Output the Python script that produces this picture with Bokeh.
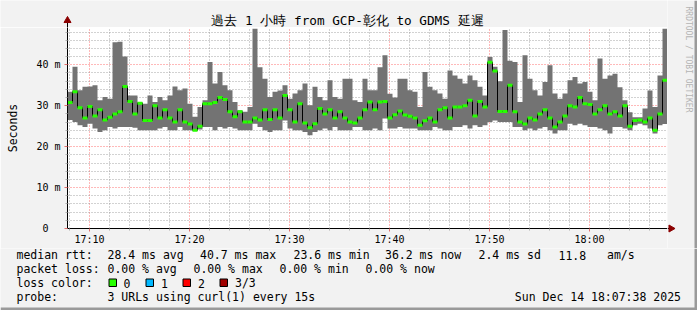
import math
from bokeh.plotting import figure
from bokeh.layouts import column, row
from bokeh.models import Range1d, FixedTicker
from bokeh.core.properties import value
from bokeh.embed import file_html
from bokeh.resources import INLINE

# ---- data (ms), one value per 30 s step ----
rtt_max = [33.4, 39.5, 33.8, 34.6, 34.7, 35.0, 31.3, 32.1, 31.7, 45.5,
           45.6, 42.0, 32.5, 32.5, 30.9, 30.5, 32.5, 30.9, 32.1, 31.3,
           32.5, 34.7, 33.8, 34.2, 30.5, 27.3, 29.7, 31.3, 40.7, 35.4,
           38.2, 35.0, 33.8, 30.9, 28.9, 28.5, 29.7, 48.8, 39.4, 36.6,
           32.1, 33.4, 33.7, 35.0, 31.7, 33.0, 33.8, 35.4, 30.1, 34.6,
           32.1, 31.3, 36.2, 32.1, 31.7, 36.6, 36.6, 31.3, 30.9, 36.6,
           33.8, 33.8, 39.4, 42.3, 32.9, 32.0, 36.6, 36.6, 33.8, 33.4,
           29.7, 38.2, 34.6, 33.8, 33.0, 31.7, 38.6, 37.4, 36.6, 35.4,
           37.4, 36.2, 34.6, 32.5, 41.9, 39.5, 36.0, 48.5, 41.0, 40.7,
           30.9, 42.3, 36.6, 33.8, 32.5, 35.8, 39.9, 33.0, 31.7, 33.0,
           36.2, 37.0, 35.4, 35.8, 33.4, 31.3, 41.5, 36.6, 37.4, 37.8,
           34.5, 31.3, 28.4, 27.2, 27.2, 29.3, 33.7, 29.7, 37.4, 48.8]
rtt_min = [26.5, 26.0, 25.2, 24.8, 25.6, 24.4, 23.6, 24.0, 24.8, 24.4,
           24.8, 24.8, 24.8, 24.6, 24.0, 24.0, 24.0, 24.0, 24.4, 24.8,
           24.0, 24.0, 24.8, 24.0, 24.0, 24.0, 24.2, 24.8, 24.8, 24.0,
           24.8, 24.4, 24.8, 24.4, 24.0, 24.0, 24.0, 25.6, 24.8, 24.0,
           23.6, 24.0, 24.0, 26.4, 24.4, 24.0, 24.0, 23.6, 22.8, 23.6,
           24.0, 24.4, 24.0, 24.8, 24.0, 24.0, 24.0, 24.8, 24.8, 24.0,
           24.0, 24.4, 24.0, 26.9, 24.4, 24.4, 24.8, 24.4, 24.4, 24.4,
           24.0, 24.0, 24.0, 24.8, 24.4, 24.0, 24.0, 24.8, 24.8, 25.2,
           24.4, 25.2, 24.8, 25.2, 26.0, 26.4, 26.0, 26.0, 26.0, 24.8,
           24.8, 24.0, 24.4, 24.0, 24.4, 24.8, 24.0, 23.2, 24.0, 24.0,
           25.6, 25.2, 25.6, 25.2, 24.8, 24.8, 24.4, 24.0, 23.2, 24.8,
           24.8, 24.4, 24.0, 25.2, 25.6, 25.2, 24.4, 23.2, 25.2, 25.5]
rtt_median = [30.8, 33.4, 29.5, 27.0, 29.8, 27.5, 29.0, 26.5, 27.2, 28.0,
              28.5, 34.7, 31.0, 28.0, 30.6, 26.4, 26.4, 30.0, 27.0, 29.0,
              27.0, 26.0, 29.0, 26.0, 25.5, 24.0, 25.0, 30.5, 30.5, 30.8,
              32.0, 31.5, 28.5, 27.3, 28.5, 26.0, 26.0, 27.0, 26.5, 29.0,
              26.6, 29.0, 27.0, 32.5, 29.0, 26.0, 30.5, 25.8, 24.6, 25.6,
              29.3, 28.0, 29.0, 27.0, 28.5, 27.0, 26.0, 25.8, 27.0, 29.0,
              30.9, 29.0, 30.9, 31.0, 27.0, 27.8, 28.7, 27.7, 27.4, 27.0,
              25.2, 26.3, 27.0, 26.0, 29.0, 29.5, 27.0, 29.7, 29.7, 30.0,
              31.3, 27.5, 31.0, 29.7, 40.6, 38.5, 28.6, 28.6, 35.0, 28.5,
              26.0, 25.5, 27.0, 26.5, 28.0, 29.0, 27.0, 24.8, 26.0, 27.5,
              30.0, 29.7, 32.0, 30.5, 30.3, 28.0, 29.0, 30.0, 28.0, 28.5,
              27.5, 30.0, 25.0, 26.4, 26.5, 26.0, 27.0, 24.0, 28.0, 36.2]

start_minute = 7.8      # 17:07:48, minutes after 17:00
step_minutes = 0.5
end_minute = 67.8

x_tick_minutes = [10, 20, 30, 40, 50, 60]
x_tick_labels = ["17:10", "17:20", "17:30", "17:40", "17:50", "18:00"]
y_tick_values = [0, 10, 20, 30, 40]
y_tick_labels = ["0\u00a0\u00a0", "10 m", "20 m", "30 m", "40 m"]

title_text = "過去 1 小時 from GCP-彰化 to GDMS 延遲"
credit_text = "RRDTOOL / TOBI OETIKER"
rtt_row = ["median rtt:", "28.4 ms avg", "40.7 ms max", "23.6 ms min",
           "36.2 ms now", "2.4 ms sd", "11.8", "am/s"]
loss_row = ["packet loss:", "0.00 % avg", "0.00 % max", "0.00 % min", "0.00 % now"]
loss_labels = ["0", "1", "2", "3/3"]
loss_colors = ["#26ff00", "#00b8ff", "#ff0000", "#a00000"]
probe_row = ["probe:", "3 URLs using curl(1) every 15s"]
date_text = "Sun Dec 14 18:07:38 2025"

MONO = "DejaVu Sans Mono"
BG = "#f2f2f2"
EDGE = "#9a9a9a"
ARROW = "#8b0000"

n = len(rtt_median)
left = [start_minute + i * step_minutes for i in range(n)]
right = [v + step_minutes for v in left]


def no_align(f):
    try:
        f.frame_align = False
    except Exception:
        pass


# ------------------------------------------------------------ main chart
p = figure(width=667, height=221, output_backend="svg", toolbar_location=None,
           x_range=Range1d(start_minute, end_minute), y_range=Range1d(0, 49.1),
           min_border_left=67, min_border_right=0, min_border_top=0,
           min_border_bottom=20)
p.background_fill_color = "white"
p.border_fill_color = BG
p.outline_line_color = None
no_align(p)

p.xaxis.ticker = FixedTicker(ticks=x_tick_minutes,
                             minor_ticks=[m for m in range(8, 68, 2) if m % 10])
p.xaxis.major_label_overrides = dict(zip(x_tick_minutes, x_tick_labels))
p.yaxis.ticker = FixedTicker(ticks=y_tick_values,
                             minor_ticks=[v for v in range(2, 49, 2) if v % 10])
p.yaxis.major_label_overrides = dict(zip(y_tick_values, y_tick_labels))
for ax in (p.xaxis[0], p.yaxis[0]):
    ax.axis_line_color = "black"
    ax.major_tick_line_color = "#e07070"
    ax.major_tick_out = 3
    ax.major_tick_in = 0
    ax.minor_tick_line_color = "#b0b0b0"
    ax.minor_tick_out = 2
    ax.minor_tick_in = 0
    ax.major_label_text_font = MONO
    ax.major_label_text_font_size = "10px"
    ax.major_label_text_color = "black"
p.xaxis.major_label_standoff = 2
p.yaxis.major_label_standoff = 4
p.yaxis.axis_label = "Seconds"
p.yaxis.axis_label_text_font = MONO
p.yaxis.axis_label_text_font_size = "11.5px"
p.yaxis.axis_label_text_font_style = "normal"
p.yaxis.axis_label_text_color = "black"
p.yaxis.axis_label_standoff = 13

for g in (p.xgrid[0], p.ygrid[0]):
    g.grid_line_color = "#ff0000"
    g.grid_line_alpha = 0.55
    g.grid_line_dash = "1 2"
    g.minor_grid_line_color = "#909090"
    g.minor_grid_line_alpha = 0.8
    g.minor_grid_line_dash = "1 2"

p.varea_step(x=left + [right[-1]], y1=rtt_min + [rtt_min[-1]],
             y2=rtt_max + [rtt_max[-1]], step_mode="after",
             fill_color="#737373")
p.step(x=left + [right[-1]], y=rtt_median + [rtt_median[-1]], mode="after",
       line_color="black", line_width=1)
p.segment(x0=left, y0=rtt_median, x1=right, y1=rtt_median,
          line_color=loss_colors[0], line_width=3)


# ------------------------------------------------------------ text panels
def panel(w, h):
    f = figure(width=w, height=h, output_backend="svg", toolbar_location=None,
               x_range=Range1d(0, w), y_range=Range1d(0, h),
               x_axis_location=None, y_axis_location=None, min_border=0)
    f.background_fill_color = BG
    f.border_fill_color = BG
    f.outline_line_color = None
    f.grid.visible = False
    no_align(f)
    return f


class Pane:
    def __init__(self, w, h, ox, oy):
        self.f = panel(w, h)
        self.h, self.ox, self.oy = h, ox, oy

    def X(self, cx):
        return cx - self.ox

    def Y(self, cy):
        return self.oy + self.h - cy

    def text(self, t, cx, cy, size="11.5px", color="black", align="left", angle=0.0):
        self.f.text(x=[self.X(cx)], y=[self.Y(cy)], text=[t],
                    text_font=value(MONO), text_font_size=value(size),
                    text_color=color, text_align=align, text_baseline="middle",
                    angle=angle)

    def box(self, l, r, t, b, col, line=None):
        self.f.quad(left=[self.X(l)], right=[self.X(r)], top=[self.Y(t)],
                    bottom=[self.Y(b)], fill_color=col,
                    line_color=line if line else None, line_width=1)


top = Pane(667, 27, 0, 0)
side = Pane(30, 248, 667, 0)
bottom = Pane(697, 62, 0, 248)

# title + y-axis arrow
top.text(title_text, 347, 20, size="12.7px", align="center")
top.f.segment(x0=[top.X(67)], y0=[top.Y(21)], x1=[top.X(67)], y1=[top.Y(27)],
              line_color="black", line_width=1)
top.f.scatter(x=[top.X(67)], y=[top.Y(20)], marker="triangle", size=7,
              fill_color=ARROW, line_color=ARROW)

# right side: credit, x-axis arrow, edge
side.text(credit_text, 688, 59, size="8px", color="#b4b4b4", align="center",
          angle=-math.pi / 2)
side.f.segment(x0=[side.X(667)], y0=[side.Y(228)], x1=[side.X(670)], y1=[side.Y(228)],
               line_color="black", line_width=1)
side.f.scatter(x=[side.X(670.5)], y=[side.Y(228)], marker="triangle", size=7,
               angle=-math.pi / 2, fill_color=ARROW, line_color=ARROW)
side.box(694, 697, 0, 248, EDGE)

# legend rows
rtt_x = [16, 107, 199.5, 293, 384.5, 478, 558, 606.5]
for t, x in zip(rtt_row, rtt_x):
    bottom.text(t, x, 254.5)
loss_x = [16, 107, 193, 279, 365]
for t, x in zip(loss_row, loss_x):
    bottom.text(t, x, 268.5)
bottom.text("loss color:", 16, 282.5)
box_x = [108.5, 145.5, 182.5, 219.5]
lab_x = [123, 160.5, 197.5, 234.5]
for lab, col, bx, lx in zip(loss_labels, loss_colors, box_x, lab_x):
    bottom.box(bx, bx + 7.5, 278.5, 286, col, line="black")
    bottom.text(lab, lx, 282.5)
bottom.text(probe_row[0], 16, 296.5)
bottom.text(probe_row[1], 107, 296.5)
bottom.text(date_text, 680.5, 296.5, align="right")
bottom.box(694, 697, 248, 310, EDGE)
bottom.box(0, 697, 307, 310, EDGE)

layout = column(row(column(row(top.f, spacing=0), p, spacing=0), side.f, spacing=0),
                bottom.f, spacing=0)

open("out.html", "w").write(file_html(layout, INLINE))
